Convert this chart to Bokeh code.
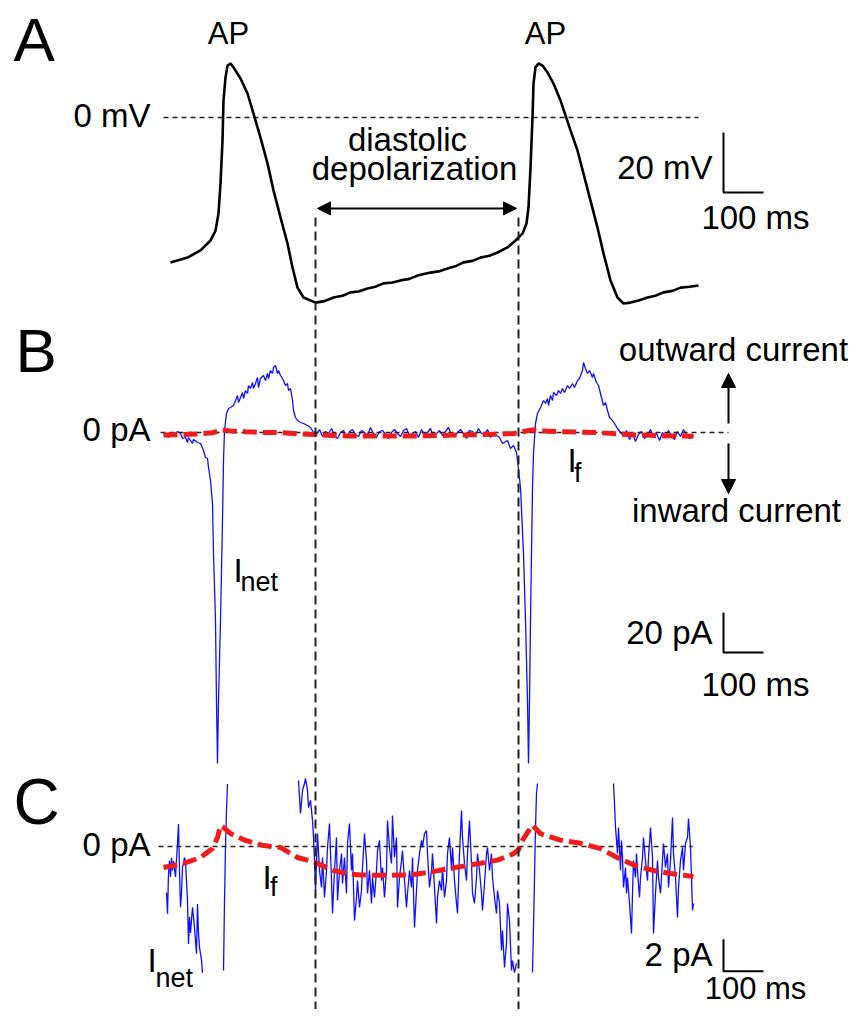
from math import nan
from bokeh.plotting import figure
from bokeh.models import Range1d, Arrow, NormalHead
from bokeh.core.properties import value
from bokeh.embed import file_html
from bokeh.resources import INLINE

# ---------------- data (time in ms) ----------------
# Panel A: membrane potential (mV)
ap_trace = [(0,-48.3),(42.5,-46.7),(75,-44.3),(100,-41),(112.5,-37.7),(120,-32),(125,-22),(130,-7.7),
            (132.5,5.7),(137.5,13.3),(142.5,17.3),(150,18),(157.5,16.7),(175,13),(192.5,8),(207.5,1.3),
            (225,-6.7),(242.5,-15.3),(257.5,-24.3),(275,-33.3),(292.5,-42),(305,-50),(317.5,-56.7),
            (332.5,-60),(362.5,-61.7),(385,-61.2),(407.5,-60),(430,-59.4),(450,-58.3),(470,-58.0),
            (492.5,-57),(512,-56.4),(532.5,-55.3),(555,-55.0),(575,-54.3),(597,-53.8),(617.5,-52.7),
            (650,-51.7),(670,-51.3),(692.5,-50.3),(712,-49.6),(732.5,-48.3),(755,-47.8),(775,-46.7),
            (797,-46.1),(817.5,-45),(842.5,-43.3),(862.5,-41),(880,-38.7),(890,-35.3),(895,-30),
            (900,-16.7),(905,0),(907.5,11.3),(912.5,16.7),(920,18),(930,17.3),(942.5,15),(957.5,11.3),
            (975,5.7),(987.5,0.7),(1000,-4.3),(1017.5,-11),(1032.5,-18.7),(1050,-27.7),(1067.5,-36.7),
            (1082.5,-45.3),(1100,-54.3),(1117.5,-60),(1132.5,-62),(1150,-61.7),(1170,-61.0),
            (1192.5,-60),(1212,-59.4),(1232.5,-58.3),(1255,-57.8),(1275,-56.7),(1298,-56.4),(1320,-56)]

# Panel B: net current (pA)
b_pre = [(-17.5,-1),(-12.5,-0.5),(-5,-2.5),(0,0),(7.5,-1.5),(17.5,0.5),(25,-0.5),(30,-3),(37.5,-2.5),
         (42.5,-5),(45,-2.5),(55,-5.5),(57.5,-3.5),(67.5,-5),(75,-5.5),(82.5,-9),(87.5,-12.5),(92.5,-13),
         (95,-17.5),(100,-24),(105,-35.5),(107.5,-60.5),(112.5,-94),(115,-135),(117.5,-165.5),(120,-134),
         (125,-94),(130,-44),(132.5,-14),(135,1),(140,9.5),(145,12)]
b_hump1 = [(150,12.5),(157.5,13.5),(162.5,16),(167.5,18.5),(170,15),(175,17.5),(180,20),(182.5,17),
           (187.5,21),(192.5,19.5),(195,23.5),(200,22),(205,25),(207.5,22),(212.5,24.5),(217.5,27.5),
           (220,22.5),(225,27),(232.5,28.5),(237.5,26),(242.5,29.5),(245,27),(250,31),(255,29.5),
           (257.5,32.5),(262.5,33.5),(267.5,29.5),(270,31),(275,28.5),(280,27),(282.5,26),(287.5,23.5),
           (292.5,24.5),(295,21),(300,22),(305,16),(307.5,11),(312.5,7.5),(317.5,6),(325,5),(332.5,4.5),
           (342.5,3.5),(350,2.5),(357.5,0)]
b_mid = [(365,-1.0),(372.5,1.5),(380,-2.0),(387.5,0.5),(395,-0.5),(402.5,2.0),(410,-1.5),(417.5,-3.0),
         (425,0.0),(432.5,1.0),(440,-2.5),(447.5,0.5),(455,1.5),(462.5,-1.0),(470,-2.0),(477.5,1.0),
         (485,0.0),(492.5,-1.5),(500,2.5),(507.5,-0.5),(515,-2.5),(522.5,0.5),(530,1.0),(537.5,-1.0),
         (545,-3.0),(552.5,0.0),(560,1.5),(567.5,-0.5),(575,-2.0),(582.5,1.0),(590,2.0),(597.5,-1.5),
         (605,-0.5),(612.5,0.5),(620,-2.5),(627.5,1.5),(635,-1.0),(642.5,0.0),(650,2.0),(657.5,-2.0),
         (665,-0.5),(672.5,1.0),(680,-1.5),(687.5,0.5),(695,2.5),(702.5,-1.0),(710,-2.0),(717.5,0.0),
         (725,1.5),(732.5,-0.5),(740,-3.0),(747.5,1.0),(755,0.5),(762.5,-1.5),(770,2.0),(777.5,-0.5),
         (785,-1.0),(792.5,1.5),(800,-2.5),(807.5,0.0),(815,-1.5)]
b_spike2 = [(822.5,-2.5),(830,-5.5),(842.5,-4),(850,-8),(857.5,-6.5),(865,-10),(867.5,-14),(875,-27.5),
            (882.5,-60.5),(887.5,-94),(892.5,-134),(895,-165.5),(897.5,-134),(900,-94),(902.5,-60.5),
            (905,-27.5),(907.5,-10.5),(912.5,4.5),(917.5,9.5),(925,12.5)]
b_hump2 = [(932.5,16),(937.5,14.5),(942.5,17),(945,13.5),(950,18.5),(955,16),(957.5,20),(965,18.5),
           (970,21),(975,19.5),(980,22),(985,20),(992.5,23.5),(997.5,22),(1005,24.5),(1010,22.5),
           (1017.5,26),(1022.5,27),(1030,31),(1032.5,35),(1037.5,32),(1042.5,29.5),(1047.5,31),
           (1055,27.5),(1057.5,29.5),(1065,25),(1070,23.5),(1077.5,17.5),(1082.5,13.5),(1087.5,15),
           (1092.5,11),(1097.5,7.5),(1105,6),(1110,4.5),(1117.5,2),(1125,0)]
b_tail = [(1132.5,-1.5),(1140,1.0),(1147.5,-3.5),(1155,-0.5),(1162.5,-4.5),(1170,-1.0),(1177.5,0.5),
          (1185,-3.0),(1192.5,-1.5),(1200,1.5),(1207.5,-2.5),(1215,-0.5),(1222.5,-4.0),(1230,0.0),
          (1237.5,-2.0),(1245,1.0),(1252.5,-1.5),(1260,-3.5),(1267.5,0.5),(1275,-2.0),(1282.5,1.5),
          (1290,-1.0),(1297.5,-3.0),(1307.5,-1.5)]

# Panel C: net current at high gain (pA), visible pieces only
c_seg1 = [(-10,-2.88),(-7.5,-4.2),(-5,-1.7),(-2.5,-0.9),(0,-1.9),(2.5,-0.7),(5,-1.5),(7.5,-0.9),
          (12.5,-1.9),(17.5,0.2),(20,1.4),(22.5,-1.5),(25,-3.8),(27.5,-2.9),(30,-1.3),(35,-0.7),
          (37.5,-0.9),(42.5,-3.4),(45,-6.1),(47.5,-4.4),(50,-5.4),(55,-3.8),(57.5,-4.4),(60,-5.1),
          (65,-6.7),(67.5,-3.6),(70,-5.4),(72.5,-6.3),(77.5,-7.1),(80,-7.9)]
c_spike1 = [(132.5,-7.75),(135,-3.4),(137.5,-0.05),(140,2.25),(142.5,3.9)]
c_seg2 = [(320,4.13),(325,2.06),(330,3.5),(335,3.94),(337.5,4.25),(342.5,3.5),(345,2.44),(350,2.88),
          (355,1.63),(357.5,0.56),(360,-0.88),(362.5,-2.75),(365,-1.06),(367.5,0.81),(372.5,-1.5),
          (377.5,-2.56),(380,-0.69),(385,-3.19),(390,-1.5),(392.5,-0.06),(397.5,1.44),(402.5,-2.13),
          (405,-4.19),(410,-1.5),(415,0.56),(417.5,-3.38),(422.5,-1.5),(427.5,-0.44),(430,-2.31),
          (435,-0.69),(440,-2.94),(442.5,0.19),(447.5,1.44),(452.5,-1.5),(455,-0.44),(460,-4.63),
          (465,-3.19),(467.5,-2.13),(472.5,-3.81),(477.5,-2.75),(480,-1.31),(485,0.81),(490,-0.88),
          (492.5,-2.94),(497.5,-1.5),(502.5,-3.56),(505,-1.94),(510,-3.19),(515,-1.5),(517.5,-0.25),
          (522.5,0.38),(527.5,-2.13),(530,-1.31),(535,-3.19),(540,-1.5),(542.5,1.63),(547.5,-0.06),
          (552.5,-1.06),(555,1.94),(560,-0.69),(565,0.56),(567.5,-3.81),(572.5,-1.94),(577.5,-0.88),
          (580,-0.25),(585,-2.13),(590,-3.81),(592.5,-2.94),(597.5,-1.5),(602.5,-2.56),(605,-0.69),
          (610,-5.06),(615,-2.75),(617.5,-1.5),(622.5,-0.44),(627.5,0.38),(630,-0.06),(635,0.81),
          (640,1.0),(642.5,-0.44),(647.5,-2.56),(652.5,-1.5),(655,-0.44),(660,-2.56),(665,-4.81),
          (667.5,-3.19),(672.5,-2.13),(677.5,-2.75),(680,-1.31),(685,-3.19),(690,-2.13),(692.5,-0.44),
          (697.5,0.56),(702.5,-1.5),(705,-0.06),(710,-2.13),(715,-3.56),(717.5,-4.19),(722.5,-0.44),
          (727.5,2.25),(730,0.56),(735,-1.06),(740,-2.13),(742.5,-0.44),(747.5,1.63),(752.5,-1.06),
          (755,-2.94),(760,-3.56),(765,-1.94),(767.5,-0.44),(772.5,-1.5),(777.5,-2.94),(780,-4.0),
          (785,-2.31),(790,-0.44),(792.5,-0.06),(797.5,-1.5),(802.5,-0.44),(805,-1.94),(810,-3.19),
          (815,-4.19),(817.5,-2.75),(822.5,-3.56),(827.5,-6.5),(830,-5.25),(835,-7.56),(840,-6.06),
          (842.5,-3.56),(847.5,-4.63),(852.5,-7.75),(855,-7.13),(860,-7.88),(865,-7.31)]
c_spike2 = [(905,-7.88),(907.5,-5.06),(910,-1.94),(912.5,1.19),(915,3.31),(917.5,3.94)]
c_seg3 = [(1107.5,3.94),(1110,2.69),(1112.5,1.19),(1117.5,-0.44),(1120,1.19),(1122.5,-0.06),(1125,-1.5),
          (1127.5,0.38),(1130,-0.69),(1132.5,-2.56),(1137.5,-1.31),(1140,-2.94),(1142.5,-1.94),
          (1147.5,-3.56),(1152.5,-5.44),(1155,-2.94),(1157.5,-0.88),(1162.5,-1.94),(1165,-0.44),
          (1167.5,-1.5),(1172.5,-3.19),(1175,-1.94),(1180,-0.69),(1182.5,0.56),(1187.5,-0.88),
          (1192.5,-2.13),(1195,-0.69),(1200,1.19),(1205,-0.69),(1207.5,-5.44),(1212.5,-2.94),
          (1217.5,-0.88),(1220,-1.94),(1225,-2.94),(1230,-0.88),(1232.5,0.19),(1237.5,-1.31),
          (1242.5,-0.44),(1245,-2.56),(1250,-0.88),(1255,1.81),(1257.5,-0.44),(1262.5,-1.94),
          (1267.5,-4.44),(1270,-2.56),(1275,-0.88),(1280,-0.06),(1282.5,-1.5),(1287.5,0.19),
          (1292.5,0.56),(1295,1.75),(1300,-0.06),(1302.5,-1.94),(1305,-4.0),(1307.5,-3.56)]

# Funny current I_f (pA), shown in B and C
if_trace = [(-17.5,-1.31),(32.5,-1.06),(75,-0.69),(105,-0.13),(117.5,0.56),(125,1.31),(132.5,1.19),
            (150,0.81),(187.5,0.38),(232.5,0.06),(275,-0.06),(317.5,-0.69),(357.5,-0.95),(407.5,-1.5),
            (442.5,-1.7),(475,-1.78),(525,-1.8),(600,-1.78),(650,-1.6),(692.5,-1.4),(775,-1.05),
            (817.5,-0.85),(857.5,-0.45),(870,-0.2),(880,0.4),(892.5,0.87),(905,1.33),(925,0.8),
            (975,0.4),(1025,0.2),(1075,-0.13),(1120,-0.73),(1162.5,-1.2),(1212.5,-1.53),
            (1262.5,-1.73),(1307.5,-1.87)]

# reference lines / markers (ms)
zero_a = [-17.5, 1320]
zero_b = [-25, 1395]
zero_c = [-30, 1305]
diastole = [362.5, 870]          # diastolic depolarization window (dashed verticals)
diastole_arrow = [367.5, 865]
scale_t = [1382.5, 1482.5]       # 100 ms scale bars
scale_a = [-5, -25]              # 20 mV
scale_b = [-90, -110]            # 20 pA
scale_c = [-5.8, -7.8]           # 2 pA
current_dir_t = 1395

def split(pairs):
    return [a for a, b in pairs], [b for a, b in pairs]

def joined(*segs):
    t, v = [], []
    for s in segs:
        if t:
            t.append(nan); v.append(nan)
        a, b = split(s)
        t += a; v += b
    return t, v

# ---------------- figure ----------------
FONT = "Liberation Sans"
p = figure(width=848, height=1009, x_range=Range1d(-425, 1695), y_range=Range1d(-297.33, 39),
           output_backend="svg", toolbar_location=None, min_border=0,
           x_axis_type=None, y_axis_type=None)
p.extra_y_ranges = {"B": Range1d(-288.5, 216), "C": Range1d(-10.1875, 52.875)}
p.grid.visible = False
p.outline_line_color = None
p.background_fill_color = "white"

# zero line A
p.line(zero_a, [0, 0], line_color="#222222", line_width=1.3, line_dash="5 4")

# panel A trace
at, av = split(ap_trace)
p.line(at, av, line_color="black", line_width=2.6)

# panel B
bt, bv = split(b_pre + b_hump1 + b_mid + b_spike2 + b_hump2 + b_tail)
p.line(bt, bv, y_range_name="B", line_color="#1010ff", line_width=1.3)
p.line(zero_b, [0, 0], y_range_name="B", line_color="#222222", line_width=1.3, line_dash="5 4")
ft, fv = split(if_trace)
p.line(ft, fv, y_range_name="B", line_color="#ee1c1c", line_width=5, line_dash="14 6")

# panel C
ct, cv = joined(c_seg1, c_spike1, c_seg2, c_spike2, c_seg3)
p.line(ct, cv, y_range_name="C", line_color="#1010ff", line_width=1.3)
p.line(zero_c, [0, 0], y_range_name="C", line_color="#222222", line_width=1.3, line_dash="5 4")
p.line(ft, fv, y_range_name="C", line_color="#ee1c1c", line_width=5, line_dash="14 6")

# diastolic depolarization verticals
for t in diastole:
    p.line([t, t], [-33.3, -297.3], line_color="#222222", line_width=2, line_dash="9 5")

# double arrow
p.add_layout(Arrow(x_start=diastole_arrow[0], x_end=diastole_arrow[1], y_start=-30.3, y_end=-30.3,
                   line_width=2, line_color="black",
                   start=NormalHead(size=13, fill_color="black", line_color="black"),
                   end=NormalHead(size=13, fill_color="black", line_color="black")))

# outward / inward arrows
p.add_layout(Arrow(x_start=current_dir_t, x_end=current_dir_t, y_start=4.5, y_end=29.5, y_range_name="B",
                   line_width=2, line_color="black",
                   end=NormalHead(size=14, fill_color="black", line_color="black")))
p.add_layout(Arrow(x_start=current_dir_t, x_end=current_dir_t, y_start=-5.5, y_end=-30.5, y_range_name="B",
                   line_width=2, line_color="black",
                   end=NormalHead(size=14, fill_color="black", line_color="black")))

# scale bars
p.line([scale_t[0], scale_t[0], scale_t[1]], [scale_a[0], scale_a[1], scale_a[1]], line_color="black", line_width=2)
p.line([scale_t[0], scale_t[0], scale_t[1]], [scale_b[0], scale_b[1], scale_b[1]], y_range_name="B",
       line_color="black", line_width=2)
p.line([scale_t[0], scale_t[0], scale_t[1]], [scale_c[0], scale_c[1], scale_c[1]], y_range_name="C",
       line_color="black", line_width=2)

def lab(x, y, text, size=33, align="left", rng="default"):
    # the svg text sits a little below the requested alphabetic baseline; lift it back
    p.text(x=[x], y=[y], text=[text], y_range_name=rng, text_font=value(FONT),
           text_font_size=value(f"{size}px"), text_align=align, text_baseline="alphabetic",
           text_color="black", y_offset=-round(0.39 * size))

# panel letters
lab(-392.5, 18, "A", size=62)
lab(-387.5, 29, "B", size=62, rng="B")
lab(-392.5, 1.25, "C", size=64, rng="C")

# panel A texts
lab(145, 24, "AP", size=31, align="center")
lab(937.5, 24, "AP", size=31, align="center")
lab(-50, -3.67, "0 mV", align="right")
lab(592.5, -11.67, "diastolic", align="center")
lab(610, -21.33, "depolarization", align="center")
lab(1355, -21, "20 mV", align="right")
lab(1462.5, -37.7, "100 ms", align="center")

# panel B texts
lab(-50, -5, "0 pA", align="right", rng="B")
lab(157.5, -75.5, "I", rng="B")
lab(175, -80, "net", size=27, rng="B")
lab(992.5, -20.5, "I", rng="B")
lab(1009, -25.5, "f", size=27, rng="B")
lab(1407.5, 35, "outward current", align="center", rng="B")
lab(1415, -45.5, "inward current", align="center", rng="B")
lab(1355, -106.5, "20 pA", align="right", rng="B")
lab(1462.5, -132.5, "100 ms", align="center", rng="B")

# panel C texts
lab(-50, -0.69, "0 pA", align="right", rng="C")
lab(230, -2.75, "I", rng="C")
lab(249, -3.19, "f", size=27, rng="C")
lab(-57.5, -7.94, "I", rng="C")
lab(-37.5, -8.875, "net", size=27, rng="C")
lab(1355, -7.55, "2 pA", align="right", rng="C")
lab(1462.5, -9.65, "100 ms", size=31, align="center", rng="C")

open("out.html", "w").write(file_html(p, INLINE))
